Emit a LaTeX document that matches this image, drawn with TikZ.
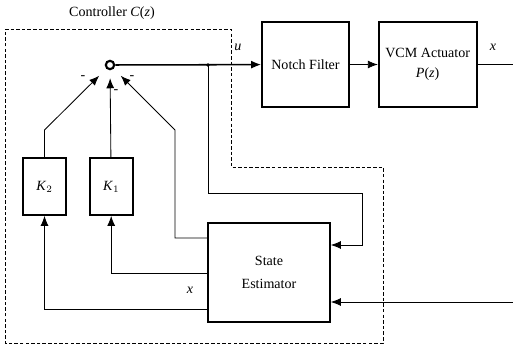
\documentclass[tikz,border=0pt]{standalone}
\usepackage{fontspec}
\setmainfont{Liberation Serif}
\usepackage{tikz}
\usetikzlibrary{positioning,arrows.meta,calc}

\begin{document}
\begin{tikzpicture}[
  x=0.25mm,y=-0.25mm,
  font=\rmfamily,
  blk/.style={draw,line width=1.2pt,align=center,inner sep=2pt},
  gain/.style={blk,minimum width=10.75mm,minimum height=14.25mm},
  sumpt/.style={draw,circle,line width=1.5pt,inner sep=0pt,minimum size=2.1mm},
  ar/.style={-{Latex[length=2.5mm,width=2mm]},line width=0.6pt},
  ln/.style={line width=0.6pt},
  frame/.style={line width=0.6pt,dash pattern=on 2.5pt off 1.5pt}
]
\useasboundingbox (0,0) rectangle (513,347);
\node (title) at (112,13) {Controller \textit{C}(\textit{z})};
\draw[frame] (5,29) -- (231,29) -- (231,167) -- (383,167) -- (383,343) -- (5,343) -- cycle;
\node[sumpt] (sum) at (110,65) {};
\node[blk,minimum width=21.75mm,minimum height=21.25mm] (notch) at (305.5,64.5) {Notch Filter};
\node[blk,right=7mm of notch,minimum width=24.5mm,minimum height=21.25mm] (vcm) {VCM Actuator\\[2pt]\textit{P}(\textit{z})};
\node[gain] (k2) at (44.5,186.5) {\textit{K}$_2$};
\node[gain,right=5.5mm of k2] (k1) {\textit{K}$_1$};
\node[blk,minimum width=30.5mm,minimum height=24.75mm] (est) at (269,272.5) {State\\[4pt]Estimator};
\node (ulab) at (238,47) {\textit{u}};
\node (xlab) at (493,47) {\textit{x}};
\node (xhat) at (190,290) {\textit{x}};
\node (m2) at (83,78) {-};
\node (m1) at (116,92) {-};
\node (m3) at (132,78) {-};
\coordinate (tap) at (208,65);
\coordinate (xend) at (513,64.5);
\coordinate (yin) at (513,302);
\coordinate (ubend) at (362,193);
\coordinate (uback) at (362,245);
\coordinate (kb2) at (44.5,130);
\coordinate (kb3) at (175,130);
% forward path
\draw[ar,line width=1.1pt] (sum) -- (notch);
\fill (tap) circle (1.4pt);
\draw[ar] (notch) -- (vcm);
\draw[ln] (vcm) -- (xend);
% into the estimator
\draw[ar] (tap) |- (ubend) -- (uback) -- (uback -| est.east);
\draw[ar] (yin) -- (yin -| est.east);
% state feedback
\draw[ar] ($(est.west)+(0,36.5)$) -| (k2);
\draw[ar] ($(est.west)+(0,0.5)$) -| (k1);
\draw[ar,shorten >=2.5mm] (k2) -- (kb2) -- (sum);
\draw[ar,shorten >=2mm] (k1) -- (sum);
\draw[ar,shorten >=2.5mm] ($(est.west)+(0,-34.5)$) -| (kb3) -- (sum);
\end{tikzpicture}
\end{document}
